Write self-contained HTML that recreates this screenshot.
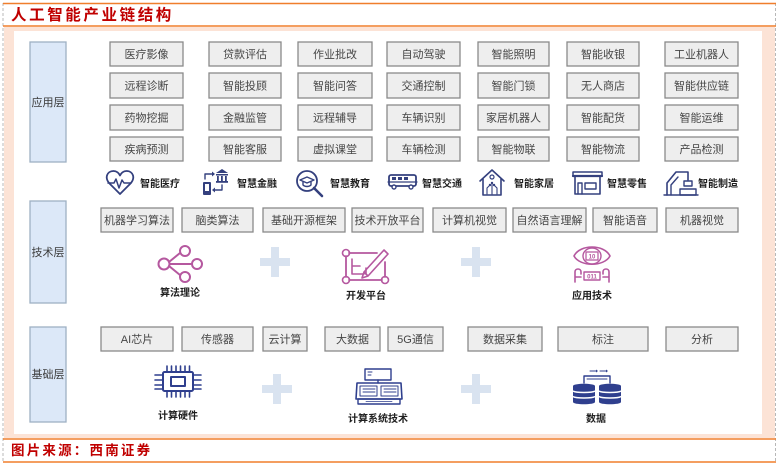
<!DOCTYPE html>
<html><head><meta charset="utf-8"><style>
html,body{margin:0;padding:0;background:#fff;}
svg{display:block;}
text{font-family:"Liberation Sans","Noto Sans CJK SC",sans-serif;}
.bx{fill:#eeeeee;stroke:#8a8a8a;stroke-width:1.3;}
.bt{font-size:11px;fill:#454545;text-anchor:middle;}
.lb{fill:#dce8f8;stroke:#9fb0c4;stroke-width:1.3;}
.lt{font-size:11px;fill:#3a3a3a;text-anchor:middle;}
.it{font-size:10px;font-weight:bold;fill:#1f1f1f;}
.ct{font-size:10px;font-weight:bold;fill:#1f1f1f;text-anchor:middle;}
.nv{fill:none;stroke:#34407e;stroke-width:1.8;stroke-linejoin:round;stroke-linecap:round;}
.nf{fill:#34407e;}
.pk{fill:none;stroke:#b5589f;stroke-width:2;stroke-linejoin:round;stroke-linecap:round;}
.bn{fill:none;stroke:#2f3f8e;stroke-width:2;stroke-linejoin:round;stroke-linecap:round;}
.pl{fill:#d9e3f0;}
</style></head><body>
<svg width="779" height="466" viewBox="0 0 779 466" xmlns="http://www.w3.org/2000/svg">
<!-- frame -->
<rect x="4" y="27" width="771" height="411" fill="#fce3d6"/>
<rect x="14" y="31" width="748" height="403" fill="#ffffff"/>
<line x1="3" y1="3" x2="3" y2="463" stroke="#b8b8b8" stroke-width="1" stroke-dasharray="3,2"/>
<line x1="775.5" y1="3" x2="775.5" y2="463" stroke="#b8b8b8" stroke-width="1" stroke-dasharray="3,2"/>
<line x1="3" y1="3.5" x2="776" y2="3.5" stroke="#f07e2c" stroke-width="1.5"/>
<line x1="3" y1="26" x2="776" y2="26" stroke="#f07e2c" stroke-width="1.5"/>
<line x1="3" y1="439" x2="776" y2="439" stroke="#f07e2c" stroke-width="1.5"/>
<line x1="3" y1="462" x2="776" y2="462" stroke="#f07e2c" stroke-width="1.5"/>
<text x="11" y="20" style="font-size:15.5px;font-weight:bold;fill:#c00000;letter-spacing:2.6px;">人工智能产业链结构</text>
<text x="11" y="455" style="font-size:13.5px;font-weight:bold;fill:#c00000;letter-spacing:2.2px;">图片来源：西南证券</text>

<!-- left labels -->
<rect class="lb" x="30" y="42" width="36" height="120"/>
<text class="lt" x="48" y="106">应用层</text>
<rect class="lb" x="30" y="201" width="36" height="102"/>
<text class="lt" x="48" y="256">技术层</text>
<rect class="lb" x="30" y="327" width="36" height="95"/>
<text class="lt" x="48" y="378">基础层</text>

<!-- application grid -->
<g>
<rect class="bx" x="110" y="42" width="73" height="24"/><text class="bt" x="146.5" y="58">医疗影像</text>
<rect class="bx" x="209" y="42" width="72" height="24"/><text class="bt" x="245" y="58">贷款评估</text>
<rect class="bx" x="298" y="42" width="74" height="24"/><text class="bt" x="335" y="58">作业批改</text>
<rect class="bx" x="387" y="42" width="73" height="24"/><text class="bt" x="423.5" y="58">自动驾驶</text>
<rect class="bx" x="478" y="42" width="71" height="24"/><text class="bt" x="513.5" y="58">智能照明</text>
<rect class="bx" x="567" y="42" width="72" height="24"/><text class="bt" x="603" y="58">智能收银</text>
<rect class="bx" x="665" y="42" width="73" height="24"/><text class="bt" x="701.5" y="58">工业机器人</text>

<rect class="bx" x="110" y="73" width="73" height="25"/><text class="bt" x="146.5" y="89.5">远程诊断</text>
<rect class="bx" x="209" y="73" width="72" height="25"/><text class="bt" x="245" y="89.5">智能投顾</text>
<rect class="bx" x="298" y="73" width="74" height="25"/><text class="bt" x="335" y="89.5">智能问答</text>
<rect class="bx" x="387" y="73" width="73" height="25"/><text class="bt" x="423.5" y="89.5">交通控制</text>
<rect class="bx" x="478" y="73" width="71" height="25"/><text class="bt" x="513.5" y="89.5">智能门锁</text>
<rect class="bx" x="567" y="73" width="72" height="25"/><text class="bt" x="603" y="89.5">无人商店</text>
<rect class="bx" x="665" y="73" width="73" height="25"/><text class="bt" x="701.5" y="89.5">智能供应链</text>

<rect class="bx" x="110" y="105" width="73" height="25"/><text class="bt" x="146.5" y="121.5">药物挖掘</text>
<rect class="bx" x="209" y="105" width="72" height="25"/><text class="bt" x="245" y="121.5">金融监管</text>
<rect class="bx" x="298" y="105" width="74" height="25"/><text class="bt" x="335" y="121.5">远程辅导</text>
<rect class="bx" x="387" y="105" width="73" height="25"/><text class="bt" x="423.5" y="121.5">车辆识别</text>
<rect class="bx" x="478" y="105" width="71" height="25"/><text class="bt" x="513.5" y="121.5">家居机器人</text>
<rect class="bx" x="567" y="105" width="72" height="25"/><text class="bt" x="603" y="121.5">智能配货</text>
<rect class="bx" x="665" y="105" width="73" height="25"/><text class="bt" x="701.5" y="121.5">智能运维</text>

<rect class="bx" x="110" y="137" width="73" height="24"/><text class="bt" x="146.5" y="153">疾病预测</text>
<rect class="bx" x="209" y="137" width="72" height="24"/><text class="bt" x="245" y="153">智能客服</text>
<rect class="bx" x="298" y="137" width="74" height="24"/><text class="bt" x="335" y="153">虚拟课堂</text>
<rect class="bx" x="387" y="137" width="73" height="24"/><text class="bt" x="423.5" y="153">车辆检测</text>
<rect class="bx" x="478" y="137" width="71" height="24"/><text class="bt" x="513.5" y="153">智能物联</text>
<rect class="bx" x="567" y="137" width="72" height="24"/><text class="bt" x="603" y="153">智能物流</text>
<rect class="bx" x="665" y="137" width="73" height="24"/><text class="bt" x="701.5" y="153">产品检测</text>
</g>

<!-- sector icons row -->
<!-- heart -->
<path class="nv" d="M120,194 L110,184 C104,178 107,171 113.5,171 C116.5,171 119,173 120,175.5 C121,173 123.5,171 126.5,171 C133,171 136,178 130,184 Z"/>
<path class="nv" d="M108,183 L114,183 L116,179 L119,188 L122,180 L124,183 L131,183" style="stroke-width:1.5"/>
<text class="it" x="140" y="187">智能医疗</text>
<!-- finance -->
<rect class="nf" x="203" y="182" width="8" height="13" rx="1"/>
<rect x="205" y="184" width="4" height="7" fill="#fff"/>
<path class="nv" d="M205,179 L205,174 L212,174" style="stroke-width:1.4"/><path class="nf" d="M212,171.5 L215,174 L212,176.5 Z"/>
<path class="nf" d="M216,173 L222,169 L228,173 Z"/>
<rect class="nf" x="216" y="174" width="12" height="1.5"/>
<rect class="nf" x="217" y="176" width="1.8" height="5"/><rect class="nf" x="221" y="176" width="1.8" height="5"/><rect class="nf" x="225" y="176" width="1.8" height="5"/>
<rect class="nf" x="216" y="181" width="12" height="1.8"/>
<path class="nv" d="M222,185 L222,190 L215,190" style="stroke-width:1.4"/><path class="nf" d="M215,187.5 L212,190 L215,192.5 Z"/>
<text class="it" x="237" y="187">智慧金融</text>
<!-- education -->
<circle class="nv" cx="307" cy="181" r="10"/>
<path class="nv" d="M314,188 L322,196" style="stroke-width:2.6"/>
<path class="nv" d="M300,180 L307,177 L314,180 L307,183 Z" style="stroke-width:1.4"/>
<path class="nv" d="M303,182 L303,185 C305,187 309,187 311,185 L311,182" style="stroke-width:1.4"/>
<text class="it" x="330" y="187">智慧教育</text>
<!-- bus -->
<rect class="nv" x="389" y="175" width="27" height="11" rx="2"/>
<rect class="nf" x="392" y="177" width="4" height="3"/><rect class="nf" x="398" y="177" width="4" height="3"/><rect class="nf" x="404" y="177" width="4" height="3"/>
<line class="nv" x1="388" y1="182" x2="417" y2="182" style="stroke-width:1.2"/>
<circle cx="394" cy="187" r="2" fill="#fff" stroke="#34407e" stroke-width="1.4"/><circle cx="411" cy="187" r="2" fill="#fff" stroke="#34407e" stroke-width="1.4"/>
<text class="it" x="422" y="187">智慧交通</text>
<!-- home -->
<path class="nv" d="M480,181 L492,170 L504,181" style="stroke-width:1.6"/>
<path class="nv" d="M483,179 L483,195 L501,195 L501,179" style="stroke-width:1.6"/>
<circle class="nv" cx="492" cy="177" r="2" style="stroke-width:1.2"/>
<path class="nv" d="M487,194 L487,188 L490,185 M492,194 L492,184 M497,194 L497,188 L494,185" style="stroke-width:1.1"/>
<circle class="nf" cx="490" cy="185" r="1.2"/><circle class="nf" cx="494" cy="185" r="1.2"/><circle class="nf" cx="492" cy="183" r="1.2"/>
<text class="it" x="514" y="187">智能家居</text>
<!-- retail -->
<rect class="nv" x="573" y="172" width="29" height="4" style="stroke-width:1.5"/>
<path class="nv" d="M575,176 L575,194 L600,194 L600,176" style="stroke-width:1.6"/>
<rect class="nv" x="585" y="183" width="11" height="6" style="stroke-width:1.4"/>
<path class="nv" d="M578,194 L578,183 L582,183 L582,194" style="stroke-width:1.4"/>
<path class="nv" d="M573,176 L602,176" style="stroke-width:2.2"/>
<text class="it" x="607" y="187">智慧零售</text>
<!-- manufacturing -->
<path class="nv" d="M667,195 L667,183 L676,172 L688,172 L688,180" style="stroke-width:1.6"/>
<path class="nv" d="M671,195 L671,185 L678,177" style="stroke-width:1.4"/>
<path class="nv" d="M684,181 L692,181 L692,186 L684,186 Z" style="stroke-width:1.4"/>
<path class="nv" d="M680,195 L680,189 L696,189 L696,195 Z" style="stroke-width:1.4"/>
<path class="nv" d="M664,195 L698,195" style="stroke-width:1.4"/>
<text class="it" x="698" y="187">智能制造</text>

<!-- tech boxes -->
<rect class="bx" x="101" y="208" width="72" height="24"/><text class="bt" x="137" y="224">机器学习算法</text>
<rect class="bx" x="182" y="208" width="71" height="24"/><text class="bt" x="217.5" y="224">脑类算法</text>
<rect class="bx" x="263" y="208" width="82" height="24"/><text class="bt" x="304" y="224">基础开源框架</text>
<rect class="bx" x="352" y="208" width="71" height="24"/><text class="bt" x="387.5" y="224">技术开放平台</text>
<rect class="bx" x="433" y="208" width="73" height="24"/><text class="bt" x="469.5" y="224">计算机视觉</text>
<rect class="bx" x="513" y="208" width="73" height="24"/><text class="bt" x="549.5" y="224">自然语言理解</text>
<rect class="bx" x="593" y="208" width="64" height="24"/><text class="bt" x="625" y="224">智能语音</text>
<rect class="bx" x="666" y="208" width="72" height="24"/><text class="bt" x="702" y="224">机器视觉</text>

<!-- tech icons -->
<g>
<circle class="pk" cx="164" cy="264" r="5.5"/>
<circle class="pk" cx="185" cy="251" r="5"/>
<circle class="pk" cx="197" cy="264" r="5"/>
<circle class="pk" cx="185" cy="277" r="5"/>
<path class="pk" d="M169.5,264 L192,264 M169,262 L180,253 M169,266 L180,275"/>
</g>
<text class="ct" x="180" y="296">算法理论</text>
<rect class="pl" x="260" y="258" width="30" height="8"/><rect class="pl" x="271" y="247" width="8" height="30"/>
<!-- dev platform -->
<g>
<path class="pk" d="M349,253 L377,253 M346,256 L346,277 M349,280 L382,280 M385,277 L385,262" style="stroke-width:1.8"/>
<circle class="pk" cx="346" cy="253" r="3.5" style="stroke-width:1.6"/>
<circle class="pk" cx="346" cy="280" r="3.5" style="stroke-width:1.6"/>
<circle class="pk" cx="385" cy="280" r="3.5" style="stroke-width:1.6"/>
<path class="pk" d="M352,259 L352,274 L364,274 M352,266 L360,266 M366,274 L366,268" style="stroke-width:1.6"/>
<path class="pk" d="M364,272 L384,250 L388,254 L368,276 Z M364,272 L362,278 L368,276" style="stroke-width:1.6"/>
</g>
<text class="ct" x="366" y="299">开发平台</text>
<rect class="pl" x="461" y="258" width="30" height="8"/><rect class="pl" x="472" y="247" width="8" height="30"/>
<!-- applied tech -->
<g>
<path class="pk" d="M574,256 C580,244 604,244 610,256 C604,267 580,267 574,256 Z" style="stroke-width:1.6"/>
<ellipse class="pk" cx="592" cy="256" rx="9" ry="8" style="stroke-width:1.4"/>
<rect class="pk" x="586" y="252" width="12" height="8" style="stroke-width:1.2"/>
<text x="592" y="258.5" style="font-size:6px;fill:#b5589f;text-anchor:middle;font-weight:bold;">10</text>
<path class="pk" d="M575,282 L575,272 C575,268 581,268 581,272 L581,274 M575,277 L581,277" style="stroke-width:1.6"/>
<path class="pk" d="M609,282 L609,272 C609,268 603,268 603,272 L603,274 M603,277 L609,277" style="stroke-width:1.6"/>
<rect class="pk" x="584" y="272" width="16" height="8" style="stroke-width:1.4"/>
<text x="592" y="278.5" style="font-size:6px;fill:#b5589f;text-anchor:middle;font-weight:bold;">011</text>
</g>
<text class="ct" x="592" y="299">应用技术</text>

<!-- base boxes -->
<rect class="bx" x="101" y="327" width="72" height="24"/><text class="bt" x="137" y="343">AI芯片</text>
<rect class="bx" x="182" y="327" width="71" height="24"/><text class="bt" x="217.5" y="343">传感器</text>
<rect class="bx" x="263" y="327" width="44" height="24"/><text class="bt" x="285" y="343">云计算</text>
<rect class="bx" x="325" y="327" width="55" height="24"/><text class="bt" x="352.5" y="343">大数据</text>
<rect class="bx" x="388" y="327" width="55" height="24"/><text class="bt" x="415.5" y="343">5G通信</text>
<rect class="bx" x="468" y="327" width="74" height="24"/><text class="bt" x="505" y="343">数据采集</text>
<rect class="bx" x="558" y="327" width="90" height="24"/><text class="bt" x="603" y="343">标注</text>
<rect class="bx" x="666" y="327" width="72" height="24"/><text class="bt" x="702" y="343">分析</text>

<!-- base icons -->
<g>
<rect class="bn" x="163" y="372" width="30" height="19" rx="1.5"/>
<rect class="bn" x="171" y="377" width="14" height="9"/>
<path class="bn" d="M167,366 L167,372 M171.5,366 L171.5,372 M176,366 L176,372 M180.5,366 L180.5,372 M185,366 L185,372 M189.5,366 L189.5,372
 M167,391 L167,397 M171.5,391 L171.5,397 M176,391 L176,397 M180.5,391 L180.5,397 M185,391 L185,397 M189.5,391 L189.5,397
 M155,375 L163,375 M155,380 L163,380 M155,385 L163,385 M155,389 L163,389
 M193,375 L201,375 M193,380 L201,380 M193,385 L201,385 M193,389 L201,389" style="stroke-width:1.6"/>
</g>
<text class="ct" x="178" y="419">计算硬件</text>
<rect class="pl" x="262" y="385" width="30" height="8"/><rect class="pl" x="273" y="374" width="8" height="30"/>
<g>
<rect class="bn" x="365" y="369" width="26" height="11" style="stroke-width:1.4"/>
<path class="bn" d="M368,372 L372,372 M368,375 L371,375" style="stroke-width:1"/>
<path class="bn" d="M357,383 L401,383 L402,399 L356,399 Z" style="stroke-width:1.6"/>
<path class="bn" d="M360,386 L377,386 L377,396 L360,396 Z M381,386 L398,386 L398,396 L381,396 Z" style="stroke-width:1"/>
<path class="bn" d="M363,389 L375,389 M363,392 L375,392 M384,389 L396,389 M384,392 L396,392" style="stroke-width:0.9"/>
<path class="bn" d="M378,380 L378,383" style="stroke-width:1.4"/>
<rect class="bn" x="358" y="399" width="42" height="5" style="stroke-width:1.4"/>
<path class="bn" d="M366,401.5 L392,401.5" style="stroke-width:0.8"/>
</g>
<text class="ct" x="378" y="422">计算系统技术</text>
<rect class="pl" x="461" y="385" width="30" height="8"/><rect class="pl" x="472" y="374" width="8" height="30"/>
<g>
<path class="bn" d="M584,383 L584,376 L610,376 L610,383" style="stroke-width:1.4"/>
<path class="bn" d="M587,379 L607,379" style="stroke-width:1"/>
<path class="bn" d="M590,371 L596,371 M600,371 L606,371" style="stroke-width:1"/>
<path d="M596,369.5 L598,371 L596,372.5 Z M606,369.5 L608,371 L606,372.5 Z" fill="#2f3f8e"/>
<path d="M573,386 C573,383 595,383 595,386 L595,402 C595,405 573,405 573,402 Z" fill="#2f3f8e"/>
<path d="M599,386 C599,383 621,383 621,386 L621,402 C621,405 599,405 599,402 Z" fill="#2f3f8e"/>
<path d="M573,391 C576,393 592,393 595,391 M573,396.5 C576,398.5 592,398.5 595,396.5 M599,391 C602,393 618,393 621,391 M599,396.5 C602,398.5 618,398.5 621,396.5" stroke="#fff" stroke-width="1.4" fill="none"/>
</g>
<text class="ct" x="596" y="422">数据</text>
</svg>
</body></html>
